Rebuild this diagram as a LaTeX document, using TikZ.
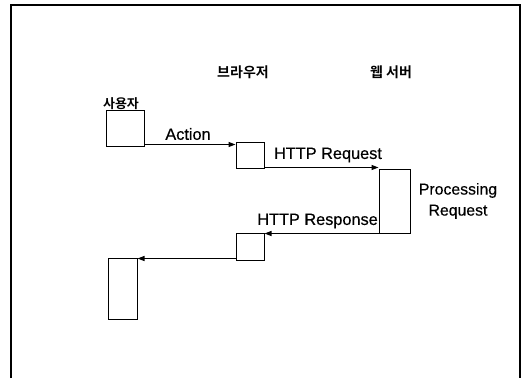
\documentclass[tikz,border=0pt]{standalone}
\usepackage{fontspec}
\setmainfont{Liberation Sans}[FakeBold=0.4]
\newfontfamily\kofont{Noto Sans CJK KR}[BoldFont={* Bold}]
\usetikzlibrary{arrows.meta}
\begin{document}
\begin{tikzpicture}[x=1pt,y=-1pt,
  box/.style={draw,line width=1pt},
  msg/.style={line width=1.1pt,-{Triangle[length=7pt,width=5pt]}},
  lbl/.style={font=\fontsize{16.3}{18}\selectfont,inner sep=0pt},
  head/.style={font=\kofont\bfseries\fontsize{14}{16}\selectfont,inner sep=0pt}]
\useasboundingbox (0,0) rectangle (522,378);
\fill[white] (0,0) rectangle (522,378);
% frame
\draw[line width=1.4pt] (11,378) -- (11,5) -- (520,5) -- (520,378);
% headers
\node[head] (hb) at (243,72) {브라우저};
\node[head] (hw) at (391,72) {웹 서버};
\node[head,font=\kofont\bfseries\fontsize{13}{15}\selectfont] (hu) at (121,104) {사용자};
% boxes
\node[box,minimum width=38pt,minimum height=36pt,inner sep=0pt] (u1) at (125,128) {};
\node[box,minimum width=28pt,minimum height=26pt,inner sep=0pt] (b1) at (250,155) {};
\node[box,minimum width=31pt,minimum height=64pt,inner sep=0pt] (s1) at (394.5,201) {};
\node[box,minimum width=28pt,minimum height=27pt,inner sep=0pt] (b2) at (250,246.5) {};
\node[box,minimum width=29pt,minimum height=61pt,inner sep=0pt] (u2) at (122.5,288.5) {};
% messages
\draw[msg] (u1.south east) ++(0,-2) coordinate (a0) -- (a0 -| b1.west);
\draw[msg] (b1.south east) ++(0,-1) coordinate (r0) -- (r0 -| s1.west);
\draw[msg] (s1.south west) -- (s1.south west -| b2.east);
\draw[msg] (b2.south west) ++(0,-2) coordinate (q0) -- (q0 -| u2.east);
% labels
\node[lbl] (la) at (188,134) {Action};
\node[lbl] (lr) at (328,155) {HTTP Request};
\node[lbl,anchor=east] (lp) at (378,221) {HTTP Response};
\node[lbl,align=center,font=\fontsize{15.8}{21}\selectfont] (ls) at (458,201) {Processing\\Request};
\end{tikzpicture}
\end{document}
